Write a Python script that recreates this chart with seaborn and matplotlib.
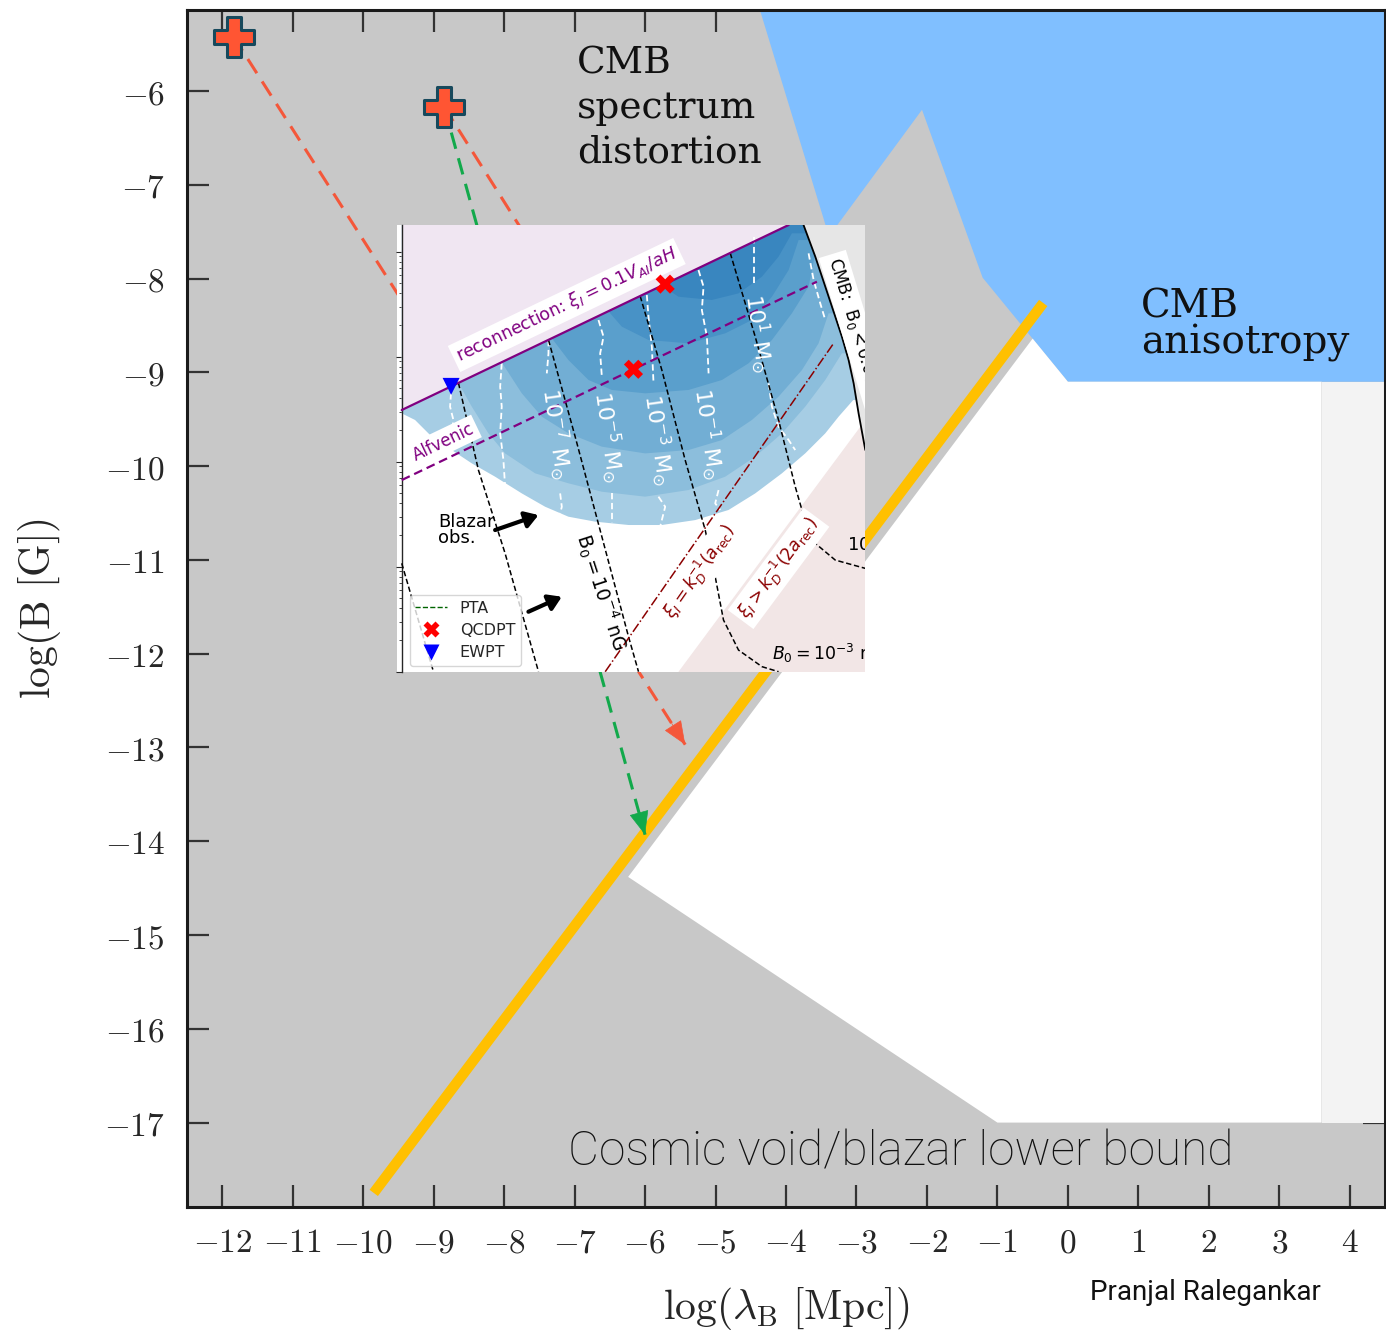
import numpy as np
import matplotlib
matplotlib.use("Agg")
import matplotlib.pyplot as plt
import seaborn as sns
from matplotlib.lines import Line2D

sns.set_style("ticks")
plt.rcParams["font.family"] = ["DejaVu Sans"]

# ---------------- main panel: log10(lambda_B / Mpc) vs log10(B / G) ----------------
x_ticks = list(range(-12, 5))
y_ticks = list(range(-17, -5))

# CMB anisotropy excluded region
cmb_aniso_x = [-4.37, 4.5, 4.5, 0.0, -1.21, -2.07, -3.39]
cmb_aniso_y = [-5.136, -5.136, -9.10, -9.10, -7.99, -6.20, -7.55]
# allowed (white) window
allowed_x = [-0.50, 0.0, 3.6, 3.6, -1.0, -6.24]
allowed_y = [-8.64, -9.10, -9.10, -17.0, -17.0, -14.38]
# faint strip on the right
strip_x = [3.6, 4.5, 4.5, 3.6]
strip_y = [-9.10, -9.10, -17.0, -17.0]
# B ~ lambda line
yellow_x = [-9.85, -0.35]
yellow_y = [-17.75, -8.26]
# phase-transition seeds
seed_x = [-11.84, -8.85]
seed_y = [-5.42, -6.17]
# evolution tracks
red1_x = [-11.84, -5.43]
red1_y = [-5.42, -12.97]
red2_x = [-8.85, -7.0]
red2_y = [-6.17, -8.37]
green_x = [-8.85, -6.0]
green_y = [-6.17, -13.93]

# ---------------- inset: log10 coordinates ----------------
reco_u = [0.0, 3.683]
reco_v = [-1.508, 0.254]
alfv_u = [0.0, 3.952]
alfv_v = [-2.175, -0.286]
lav_u = [0.0, 4.2, 0.0]
lav_v = [-1.508, 0.5, 0.5]
kd_u = [1.937, 4.111]
kd_v = [-4.0, -0.873]
beige_u = [2.635, 4.413, 4.5, 4.5, 2.635]
beige_v = [-4.0, -1.603, -1.603, -4.1, -4.1]
cmb_u = [3.825, 3.937, 4.032, 4.127, 4.19, 4.254, 4.302, 4.349, 4.413]
cmb_v = [0.254, -0.048, -0.333, -0.619, -0.81, -1.032, -1.254, -1.54, -1.889]

lev_u = [
    [0.0, 0.127, 0.286, 0.476, 0.667, 0.889, 1.143, 1.365, 1.587, 1.841, 2.159, 2.476,
     2.794, 3.111, 3.365, 3.619, 3.841, 4.032, 4.159, 4.298],
    [0.54, 0.667, 0.825, 0.984, 1.27, 1.587, 1.905, 2.317, 2.73, 3.079, 3.365, 3.619,
     3.841, 4.032, 4.19],
    [0.952, 1.143, 1.333, 1.587, 1.905, 2.317, 2.73, 3.048, 3.333, 3.587, 3.81, 3.968, 4.063],
    [1.429, 1.587, 1.778, 2.0, 2.317, 2.73, 3.048, 3.302, 3.524, 3.714, 3.873, 3.937],
    [1.968, 2.095, 2.349, 2.73, 3.079, 3.333, 3.524, 3.683, 3.778],
    [2.476, 2.635, 2.952, 3.206, 3.429, 3.587, 3.714],
]
lev_v = [
    [-1.54, -1.603, -1.762, -1.889, -2.016, -2.143, -2.302, -2.429, -2.524, -2.571, -2.603,
     -2.603, -2.556, -2.46, -2.302, -2.111, -1.921, -1.73, -1.571, -1.413],
    [-1.251, -1.476, -1.73, -1.921, -2.111, -2.206, -2.286, -2.333, -2.27, -2.143, -1.952,
     -1.73, -1.476, -1.222, -0.968],
    [-1.054, -1.349, -1.571, -1.73, -1.857, -1.921, -1.889, -1.794, -1.603, -1.381, -1.127,
     -0.873, -0.587],
    [-0.825, -1.032, -1.222, -1.317, -1.349, -1.317, -1.222, -1.063, -0.841, -0.587, -0.333, -0.016],
    [-0.568, -0.714, -0.841, -0.873, -0.778, -0.651, -0.429, -0.175, 0.111],
    [-0.324, -0.429, -0.46, -0.397, -0.238, -0.048, 0.175],
]
lev_colors = ["#a6cde4", "#8cbedc", "#72aed4", "#5a9fcc", "#4892c6", "#3986bf"]

b0_u = [
    [0.0, 0.302],
    [0.54, 0.73, 0.984, 1.302],
    [1.397, 1.651, 1.905, 2.159, 2.254],
    [2.27, 2.476, 2.698, 2.889, 2.984, 3.063, 3.206, 3.429, 3.587],
    [3.127, 3.365, 3.587, 3.746, 3.81, 3.937, 4.127, 4.413],
]
b0_v = [
    [-2.968, -4.0],
    [-1.25, -2.079, -2.873, -4.0],
    [-0.84, -1.762, -2.714, -3.667, -4.0],
    [-0.423, -1.127, -1.984, -2.651, -3.095, -3.508, -3.794, -3.952, -4.0],
    [-0.013, -0.81, -1.603, -2.238, -2.46, -2.778, -2.937, -3.016],
]

mass_u = [
    [0.476, 0.46, 0.492, 0.476],
    [0.952, 0.937, 0.952, 0.937, 0.968, 0.984],
    [1.397, 1.397, 1.381],
    [1.508, 1.524, 1.508],
    [1.873, 1.921, 1.889, 1.905],
    [2.0, 2.0],
    [2.333, 2.349, 2.381, 2.397],
    [2.444, 2.508, 2.46],
    [2.825, 2.873, 2.857, 2.905, 2.921],
    [3.016, 2.984, 3.032],
    [3.349, 3.349],
    [3.492, 3.524, 3.587, 3.683, 3.746],
    [3.873, 3.921, 3.984, 4.032],
]
mass_v = [
    [-1.254, -1.476, -1.603, -1.73],
    [-1.063, -1.286, -1.476, -1.73, -1.984, -2.238],
    [-0.841, -0.968, -1.159],
    [-2.302, -2.429, -2.492],
    [-0.651, -0.81, -0.968, -1.19],
    [-2.302, -2.587],
    [-0.413, -0.619, -0.905, -1.254],
    [-2.333, -2.429, -2.619],
    [-0.175, -0.333, -0.556, -0.81, -1.159],
    [-2.27, -2.397, -2.46],
    [0.143, -0.302],
    [-1.254, -1.476, -1.667, -1.794, -1.889],
    [-0.016, -0.27, -0.492, -0.651],
]
mass_labels = [r"$10^{-7}\ \mathrm{M}_{\odot}$", r"$10^{-5}\ \mathrm{M}_{\odot}$",
               r"$10^{-3}\ \mathrm{M}_{\odot}$", r"$10^{-1}\ \mathrm{M}_{\odot}$",
               r"$10^{1}\ \mathrm{M}_{\odot}$"]
mass_lab_u = [1.476, 1.968, 2.444, 2.921, 3.397]
mass_lab_v = [-1.73, -1.762, -1.794, -1.73, -0.778]

qcd_u = [2.508, 2.206]
qcd_v = [-0.309, -1.12]
ew_u = [0.47]
ew_v = [-1.283]

# ======================================================================
fig = plt.figure(figsize=(13.86, 13.34), dpi=100)
ax = fig.add_axes([187 / 1386, 1 - 1207 / 1334, 1198 / 1386, 1197 / 1334])
ax.set_facecolor("#c8c8c8")
ax.set_xlim(-12.5, 4.5)
ax.set_ylim(-17.9, -5.136)

ax.fill(cmb_aniso_x, cmb_aniso_y, color="#80bfff", lw=0, zorder=1)
ax.fill(allowed_x, allowed_y, color="white", lw=0, zorder=1)
ax.fill(strip_x, strip_y, color="#f3f3f3", lw=0, zorder=1)

sns.lineplot(x=yellow_x, y=yellow_y, ax=ax, color="#ffc000", lw=7.5,
             sort=False, estimator=None, solid_capstyle="butt", zorder=3)


def dashed_arrow(xs, ys, color, head=True):
    ax.plot(xs, ys, color=color, lw=2.2, dashes=(5.5, 3.2), zorder=4)
    if head:
        x0, x1 = xs[-2], xs[-1]
        y0, y1 = ys[-2], ys[-1]
        f = 0.97
        ax.annotate("", xy=(x1, y1), xytext=(x0 + f * (x1 - x0), y0 + f * (y1 - y0)),
                    arrowprops=dict(arrowstyle="-|>,head_length=1.2,head_width=0.5",
                                    color=color, lw=0.5, mutation_scale=13,
                                    shrinkA=0, shrinkB=0), zorder=4)


dashed_arrow(red1_x, red1_y, "#f4573a")
dashed_arrow(red2_x, red2_y, "#f4573a", head=False)
dashed_arrow(green_x, green_y, "#12a94b")

sns.scatterplot(x=seed_x, y=seed_y, ax=ax, marker="P", s=820, color="#ff5533",
                edgecolor="#17495c", linewidth=2.2, zorder=6)

ax.text(-6.965, -5.51, "CMB\nspectrum\ndistortion", family="DejaVu Serif", fontsize=27,
        ha="left", va="top", linespacing=1.32, color="#111111", zorder=5)
ax.text(1.035, -8.11, "CMB\nanisotropy", family="DejaVu Serif", fontsize=28,
        ha="left", va="top", linespacing=0.92, color="#111111", zorder=5)
ax.text(-7.09, -17.46, "Cosmic void/blazar lower bound", family="Roboto",
        fontweight="light", fontsize=34.5, ha="left", va="baseline", color="#111111", zorder=5)

ax.set_xticks(x_ticks)
ax.set_yticks(y_ticks)
ax.set_xticklabels([f"${t}$" for t in x_ticks], math_fontfamily="cm", fontsize=24)
ax.set_yticklabels([f"${t}$" for t in y_ticks], math_fontfamily="cm", fontsize=24)
ax.tick_params(axis="both", which="major", direction="in", length=16, width=1.6,
               color="#333333", top=True, right=True)
ax.tick_params(axis="x", pad=14)
ax.tick_params(axis="y", pad=16)
ax.minorticks_off()
for s in ax.spines.values():
    s.set_linewidth(2.2)
    s.set_color("#1a1a1a")
ax.set_xlabel(r"$\log(\lambda_{\rm B}\ [{\rm Mpc}])$", fontsize=30, math_fontfamily="cm")
ax.set_ylabel(r"$\log({\rm B}\ [{\rm G}])$", fontsize=30, math_fontfamily="cm")
ax.xaxis.set_label_coords(0.5, (1207 - 1308) / 1197)
ax.xaxis.label.set_va("center")
ax.yaxis.set_label_coords((40 - 187) / 1198, 0.5)
ax.yaxis.label.set_va("center")

fig.text(1205 / 1386, 1 - 1293 / 1334, "Pranjal Ralegankar", family="Roboto",
         fontsize=20, ha="center", va="center", color="#111111")

# ======================================================================
ins = fig.add_axes([397 / 1386, 1 - 671.7 / 1334, 468 / 1386, 446.7 / 1334], zorder=5)
ins.set_facecolor("white")
ins.set_yscale("log")
ins.set_xlim(-0.045, 4.41)
ins.set_ylim(1e-4, 10 ** 0.254)


def P(v):
    return 10.0 ** np.asarray(v, dtype=float)


for uu, vv, c in zip(lev_u, lev_v, lev_colors):
    pu = list(uu) + [4.5, 4.5, uu[0]]
    pv = list(vv) + [vv[-1], 0.5, 0.5]
    ins.fill(pu, P(pv), color=c, lw=0, zorder=1)

ins.fill(lav_u, P(lav_v), color="#f0e6f2", lw=0, zorder=2)
ins.fill(beige_u, P(beige_v), color="#f2e6e6", lw=0, zorder=2)
ins.fill(cmb_u + [4.5, 4.5, cmb_u[0]], P(cmb_v + [cmb_v[-1], 0.5, 0.5]),
         color="#e6e6e6", lw=0, zorder=2.5)
ins.plot(cmb_u, P(cmb_v), color="black", lw=1.3, zorder=3)

for uu, vv in zip(mass_u, mass_v):
    ins.plot(uu, P(vv), color="white", lw=1.3, dashes=(3.5, 2.0), zorder=3)
for uu, vv in zip(b0_u, b0_v):
    ins.plot(uu, P(vv), color="black", lw=1.1, dashes=(3.5, 1.8), zorder=3.2)

ins.plot(reco_u, P(reco_v), color="#800080", lw=1.6, zorder=3.5)
ins.plot(alfv_u, P(alfv_v), color="#800080", lw=1.6, dashes=(4, 2.2), zorder=3.5)
ins.plot(kd_u, P(kd_v), color="#8b0000", lw=1.1, ls="-.", zorder=3.5)

for lab, uu, vv in zip(mass_labels, mass_lab_u, mass_lab_v):
    ins.text(uu, P(vv), lab, color="white", fontsize=16, rotation=-82,
             rotation_mode="anchor", ha="center", va="center", zorder=4)

box = dict(facecolor="white", edgecolor="none", pad=2.5)
ins.text(1.571, P(-0.508), r"reconnection: $\xi_I = 0.1V_{AI}/aH$", color="#800080",
         fontsize=12.5, rotation=25.6, rotation_mode="anchor", ha="center", va="center",
         bbox=box, zorder=4)
ins.text(0.397, P(-1.81), "Alfvenic", color="#800080", fontsize=12, rotation=25.6,
         rotation_mode="anchor", ha="center", va="center", bbox=box, zorder=4)
ins.text(2.841, P(-3.048), r"$\xi_I = k_D^{-1}(a_{\rm rec})$", color="#8b0000",
         fontsize=12.5, rotation=55.2, rotation_mode="anchor", ha="center", va="center",
         bbox=box, zorder=4)
ins.text(3.587, P(-3.016), r"$\xi_I > k_D^{-1}(2a_{\rm rec})$", color="#8b0000",
         fontsize=12.5, rotation=53.4, rotation_mode="anchor", ha="center", va="center",
         bbox=box, zorder=4)
ins.text(1.905, P(-3.238), r"B$_0 = 10^{-4}$ nG", color="black", fontsize=13.5,
         rotation=-72, rotation_mode="anchor", ha="center", va="center", zorder=4)
ins.text(3.524, P(-3.825), r"$B_0 = 10^{-3}$ nG", color="black", fontsize=12.5,
         ha="left", va="center", zorder=4, clip_on=True)
ins.text(4.238, P(-2.794), r"10$^{-2}$ nG", color="black", fontsize=13,
         ha="left", va="center", zorder=4, clip_on=True)
ins.text(4.11, P(-0.06), r"CMB:  B$_0 < 0.05$ nG", color="black", fontsize=12,
         rotation=-73, rotation_mode="anchor", ha="left", va="center",
         bbox=dict(facecolor="white", edgecolor="none", pad=3), zorder=4, clip_on=True)

ins.text(0.349, P(-2.651), "Blazar\nobs.", color="black", fontsize=13,
         ha="left", va="center", linespacing=0.85, zorder=4)
arrow_kw = dict(arrowstyle="-|>,head_length=0.55,head_width=0.35", lw=3.0,
                color="black", mutation_scale=14, shrinkA=0, shrinkB=0)
ins.annotate("", xy=(1.302, P(-2.508)), xytext=(0.889, P(-2.651)),
             arrowprops=arrow_kw, zorder=4)
ins.annotate("", xy=(1.524, P(-3.286)), xytext=(1.206, P(-3.429)),
             arrowprops=arrow_kw, zorder=4)

sns.scatterplot(x=qcd_u, y=P(qcd_v), ax=ins, marker="X", s=190, color="red",
                edgecolor="none", zorder=6)
sns.scatterplot(x=ew_u, y=P(ew_v), ax=ins, marker="v", s=150, color="blue",
                edgecolor="none", zorder=6)

handles = [Line2D([], [], color="darkgreen", ls="--", lw=1.0),
           Line2D([], [], color="red", marker="X", ls="none", ms=11, mec="none"),
           Line2D([], [], color="blue", marker="v", ls="none", ms=11, mec="none")]
leg = ins.legend(handles, ["PTA", "QCDPT", "EWPT"], loc="lower left",
                 bbox_to_anchor=(0.02, 0.006), borderaxespad=0.2, fontsize=11.5,
                 labelspacing=0.45, borderpad=0.35, frameon=True, framealpha=0.8,
                 edgecolor="#cccccc", fancybox=True)
leg.set_zorder(7)

for side in ["top", "right", "bottom"]:
    ins.spines[side].set_visible(False)
ins.spines["left"].set_position(("data", 0))
ins.spines["left"].set_linewidth(1.0)
ins.tick_params(axis="y", which="major", direction="out", length=4.5, width=0.8,
                left=True, labelleft=False)
ins.tick_params(axis="y", which="minor", direction="out", length=2.5, width=0.6,
                left=True, labelleft=False)
ins.tick_params(axis="x", which="both", bottom=False, labelbottom=False)
ins.set_xlabel("")
ins.set_ylabel("")

fig.savefig("out.png", dpi=100)
